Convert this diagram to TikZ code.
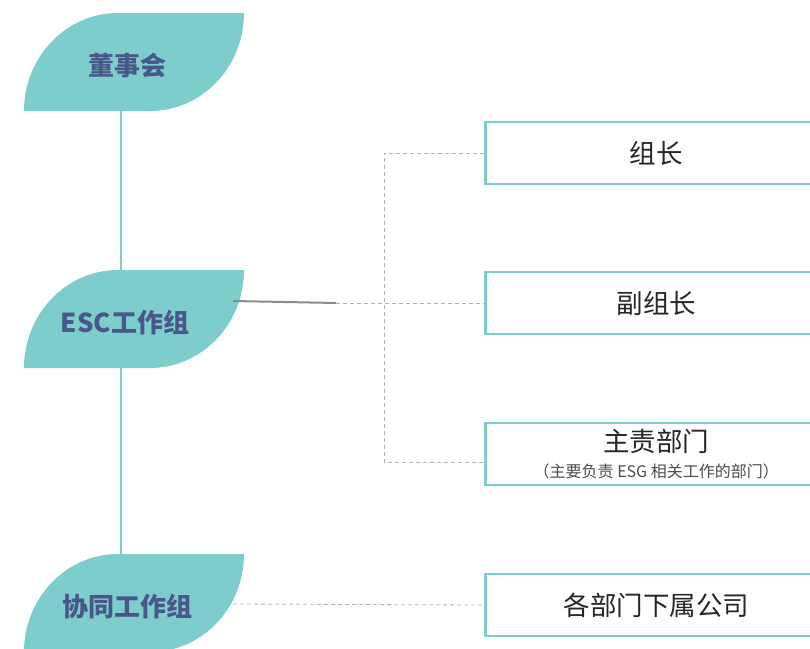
\documentclass[tikz,border=0pt]{standalone}
\usepackage{fontspec}
\newfontfamily\cjk{Noto Sans CJK SC}
\usetikzlibrary{calc}
\definecolor{leafteal}{RGB}{126,205,205}
\definecolor{leaftext}{RGB}{72,88,138}
\definecolor{linkgray}{RGB}{140,140,140}
\begin{document}
\begin{tikzpicture}[x=1pt,y=-1pt,
	leaf/.style={minimum height=98pt,inner sep=0pt,text height=27pt,text depth=0pt,text=leaftext,
		font=\cjk\bfseries\fontsize{26}{26}\selectfont},
	post/.style={draw=leafteal,line width=2.5pt,fill=white,anchor=west,minimum width=342pt,minimum height=62pt,
		text=black!85,font=\cjk\fontsize{26.5}{29}\selectfont},
	dashline/.style={draw=gray!60,line width=0.8pt,dash pattern=on 4pt off 3pt}]
	\useasboundingbox (0,0) rectangle (810,648);
	% leaves
	\foreach \t in {13,270,554}
		\fill[leafteal] (24,\t+98) .. controls (24,\t+44) and (66,\t) .. (118,\t) -- (244,\t)
			.. controls (244,\t+54) and (202,\t+98) .. (150,\t+98) -- cycle;
	\node[leaf] (board) at (127,62) {董事会};
	\node[leaf] (esc) at (125,319) {ESC工作组};
	\node[leaf] (coop) at (127,603) {协同工作组};
	\coordinate (trunk) at (121,0);
	\draw[leafteal,line width=2.5pt] (board.south -| trunk)--(esc.north -| trunk);
	\draw[leafteal,line width=2.5pt] (esc.south -| trunk)--(coop.north -| trunk);
	% boxes
	\node[post] (leader) at (484,153) {组长};
	\node[post] (deputy) at (484,303) {副组长};
	\node[post,align=center] (dept) at (484,454) {主责部门\\[-3pt]{\fontsize{16}{18}\selectfont\color{black!70}（主要负责 ESG 相关工作的部门）}};
	\node[post] (subsid) at (484,605) {各部门下属公司};
	% links
	\coordinate (esc out) at (233,301);
	\coordinate (knee) at (336,303);
	\coordinate (branch) at (384,303);
	\coordinate (coop out) at (233,604);
	\draw[linkgray,line width=2pt] (esc out)--(knee);
	\draw[dashline] (knee)--(deputy.west);
	\draw[dashline] (leader.west) -| (branch) |- ($(dept.west)+(0,8)$);
	\draw[dashline] (coop out)--(subsid.west);
\end{tikzpicture}
\end{document}
